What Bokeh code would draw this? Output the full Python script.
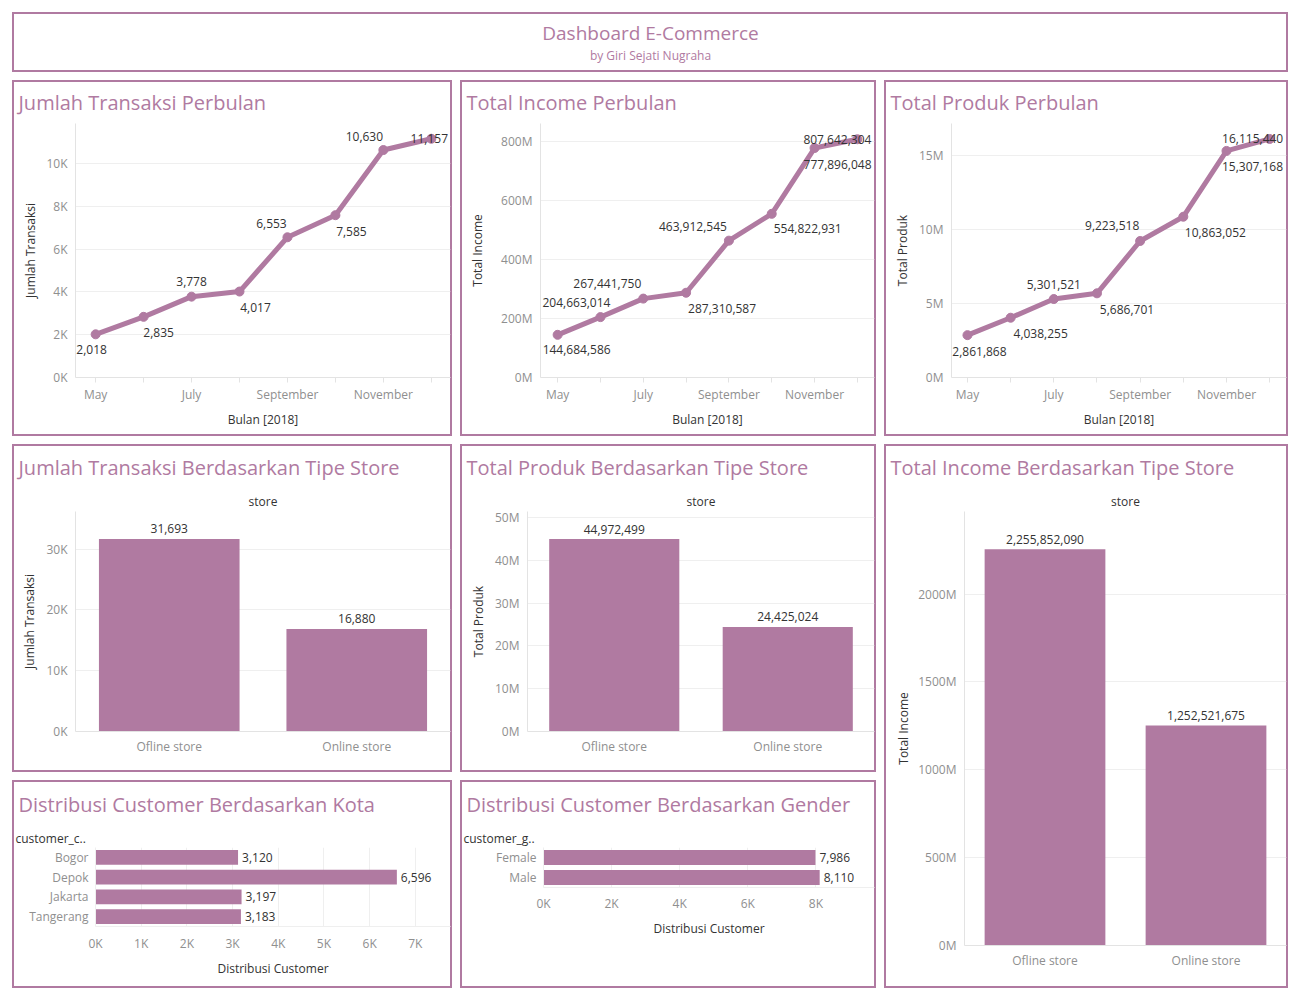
from bokeh.plotting import figure
from bokeh.models import (ColumnDataSource, Label, Title, FixedTicker,
                          Range1d, FactorRange, CustomJSTickFormatter)
from bokeh.layouts import row, column
from bokeh.embed import file_html
from bokeh.resources import INLINE
from bokeh.core.properties import value

# ---- data -------------------------------------------------------------
months = ["May", "June", "July", "August", "September", "October", "November", "December"]
transaksi_bulanan = [2018, 2835, 3778, 4017, 6553, 7585, 10630, 11157]
income_bulanan = [144684586, 204663014, 267441750, 287310587,
                  463912545, 554822931, 777896048, 807642304]
produk_bulanan = [2861868, 4038255, 5301521, 5686701,
                  9223518, 10863052, 15307168, 16115440]

store_types = ["Ofline store", "Online store"]
transaksi_store = [31693, 16880]
produk_store = [44972499, 24425024]
income_store = [2255852090, 1252521675]

kota = ["Bogor", "Depok", "Jakarta", "Tangerang"]
customer_kota = [3120, 6596, 3197, 3183]
gender = ["Female", "Male"]
customer_gender = [7986, 8110]

# ---- style ------------------------------------------------------------
PURPLE = "#b07aa1"
FONT = "Open Sans"
DARK = "#333333"
TICK_GREY = "#8f8f8f"
GRID = "#efefef"
AXIS_LINE = "#e3e3e3"
# tile frame: an inset ring behind a transparent canvas
TILE_STYLE = {"box-shadow": f"inset 0 0 0 2px {PURPLE}", "background-color": "white"}


def panel(w, h, fl, fr, ft, fb, **kw):
    """A bordered dashboard tile whose plot frame spans [fl, fr] x [ft, fb]."""
    p = figure(width=w, height=h, output_backend="svg", toolbar_location=None,
               min_border_left=fl, min_border_right=w - fr,
               min_border_top=ft, min_border_bottom=h - fb,
               styles=TILE_STYLE, **kw)
    p.outline_line_color = None
    p.border_fill_color = None
    p.background_fill_color = None
    return p


def add_title(p, text, size, color, align, offset, standoff):
    # titles added first sit closest to the plot frame
    p.add_layout(Title(text=text, text_font=FONT, text_font_size=size,
                       text_color=color, text_font_style="normal",
                       align=align, offset=offset, standoff=standoff,
                       vertical_align="middle"), "above")


def style_axis(ax, label_standoff, tick_standoff, tick_out=0):
    ax.axis_label_text_font = FONT
    ax.axis_label_text_font_size = "12px"
    ax.axis_label_text_font_style = "normal"
    ax.axis_label_text_color = DARK
    ax.axis_label_standoff = label_standoff
    ax.major_label_text_font = FONT
    ax.major_label_text_font_size = "12px"
    ax.major_label_text_color = TICK_GREY
    ax.major_label_standoff = tick_standoff
    ax.axis_line_color = AXIS_LINE
    ax.major_tick_line_color = AXIS_LINE
    ax.major_tick_in = 0
    ax.major_tick_out = tick_out
    ax.minor_tick_line_color = None


def unit_formatter(div, suffix):
    return CustomJSTickFormatter(args=dict(d=div, s=suffix),
                                 code="return (tick / d).toFixed(0) + s;")


def line_panel(title, ylabel, values, y_max, y_step, div, suffix,
               x_lo, x_hi, w, fl, ylabel_standoff, dx, dy):
    p = panel(w, 356, fl, w - 2, 43, 297,
              x_range=Range1d(x_lo, x_hi), y_range=Range1d(0, y_max))
    x = list(range(len(months)))
    src = ColumnDataSource(dict(x=x, y=values,
                                label=[f"{v:,}" for v in values], dx=dx, dy=dy))
    p.line("x", "y", source=src, line_color=PURPLE, line_width=5,
           line_join="round", line_cap="round")
    p.scatter("x", "y", source=src, size=9, color=PURPLE)
    p.text("x", "y", text="label", x_offset="dx", y_offset="dy", source=src,
           text_font=value(FONT), text_font_size="12px", text_color=DARK,
           text_align="center", text_baseline="middle")

    p.xgrid.grid_line_color = None
    p.ygrid.grid_line_color = GRID
    p.xaxis.ticker = FixedTicker(ticks=x)
    p.xaxis.major_label_overrides = {i: (m if i % 2 == 0 else "") for i, m in enumerate(months)}
    p.xaxis.axis_label = "Bulan [2018]"
    style_axis(p.xaxis[0], 5, 3, tick_out=5)

    p.yaxis.ticker = FixedTicker(ticks=list(range(0, int(y_max) + 1, int(y_step))))
    p.yaxis.formatter = unit_formatter(div, suffix)
    p.yaxis.axis_label = ylabel
    style_axis(p.yaxis[0], ylabel_standoff, 8)

    add_title(p, title, "20px", PURPLE, "left", 6 - fl, 13)
    return p


def vbar_panel(title, ylabel, values, y_max, y_step, div, suffix,
               w, h, fl, fb, ylabel_standoff):
    p = panel(w, h, fl, w - 2, 66, fb,
              x_range=FactorRange(factors=store_types), y_range=Range1d(0, y_max))
    src = ColumnDataSource(dict(cat=store_types, val=values,
                                label=[f"{v:,}" for v in values]))
    p.vbar(x="cat", top="val", width=0.75, source=src,
           fill_color=PURPLE, line_color=None)
    p.text(x="cat", y="val", text="label", y_offset=-10, source=src,
           text_font=value(FONT), text_font_size="12px", text_color=DARK,
           text_align="center", text_baseline="middle")

    p.xgrid.grid_line_color = None
    p.ygrid.grid_line_color = GRID
    style_axis(p.xaxis[0], 0, 6, tick_out=0)

    p.yaxis.ticker = FixedTicker(ticks=list(range(0, int(y_max) + 1, int(y_step))))
    p.yaxis.formatter = unit_formatter(div, suffix)
    p.yaxis.axis_label = ylabel
    style_axis(p.yaxis[0], ylabel_standoff, 8)

    add_title(p, "store", "12px", DARK, "center", 0, 2)
    add_title(p, title, "20px", PURPLE, "left", 6 - fl, 17)
    return p


def hbar_panel(title, header, cats, values, x_max, x_step, w, fb,
               tick_standoff, label_standoff):
    p = panel(w, 208, 83, w - 2, 66, fb,
              y_range=FactorRange(factors=cats[::-1]), x_range=Range1d(0, x_max))
    src = ColumnDataSource(dict(cat=cats, val=values,
                                label=[f"{v:,}" for v in values]))
    p.hbar(y="cat", right="val", left=0, height=0.75, source=src,
           fill_color=PURPLE, line_color=None)
    p.text(x="val", y="cat", text="label", x_offset=4, source=src,
           text_font=value(FONT), text_font_size="12px", text_color=DARK,
           text_align="left", text_baseline="middle")

    p.ygrid.grid_line_color = None
    p.xgrid.grid_line_color = GRID
    p.xaxis.ticker = FixedTicker(ticks=list(range(0, int(x_max) + 1, int(x_step))))
    p.xaxis.formatter = unit_formatter(1000, "K")
    p.xaxis.axis_label = "Distribusi Customer"
    style_axis(p.xaxis[0], label_standoff, tick_standoff, tick_out=0)
    style_axis(p.yaxis[0], 0, 7, tick_out=0)
    p.xaxis.axis_line_color = GRID
    p.yaxis.axis_line_color = GRID

    add_title(p, header, "12px", DARK, "left", 3 - 83, 0)
    add_title(p, title, "20px", PURPLE, "left", 6 - 83, 19)
    return p


# ---- header tile ------------------------------------------------------
top = figure(width=1276, height=60, output_backend="svg", toolbar_location=None,
             x_range=(0, 1), y_range=(0, 1), x_axis_type=None, y_axis_type=None,
             min_border=0, styles=TILE_STYLE)
top.outline_line_color = None
top.border_fill_color = None
top.background_fill_color = None
top.grid.visible = False
for text, y, size in [("Dashboard E-Commerce", 20, "19px"),
                      ("by Giri Sejati Nugraha", 43, "12px")]:
    top.add_layout(Label(x=638, y=y, x_units="canvas", y_units="canvas", text=text,
                         text_font=FONT, text_font_size=size, text_color=PURPLE,
                         text_align="center", text_baseline="middle"))

# ---- monthly line charts ---------------------------------------------
pA = line_panel("Jumlah Transaksi Perbulan", "Jumlah Transaksi", transaksi_bulanan,
                11870, 2000, 1e3, "K", -0.42, 7.4, 440, 63, 4,
                dx=[-4, 15, 0, 16, -16, 16, -19, -2],
                dy=[15, 16, -15, 16, -14, 16, -14, 0])
pB = line_panel("Total Income Perbulan", "Total Income", income_bulanan,
                861e6, 200e6, 1e6, "M", -0.4, 7.4, 416, 80, 12,
                dx=[19, -24, -36, 36, -36, 36, 23, -20],
                dy=[15, -15, -15, 16, -14, 15, 16, 0])
pC = line_panel("Total Produk Perbulan", "Total Produk", produk_bulanan,
                17.16e6, 5e6, 1e6, "M", -0.37, 7.39, 404, 67, 5,
                dx=[12, 30, 0, 30, -28, 32, 26, -17],
                dy=[16, 16, -15, 16, -15, 16, 16, 0])

# ---- store type bar charts -------------------------------------------
pD = vbar_panel("Jumlah Transaksi Berdasarkan Tipe Store", "Jumlah Transaksi",
                transaksi_store, 36200, 10000, 1e3, "K", 440, 328, 63, 287, 5)
pE = vbar_panel("Total Produk Berdasarkan Tipe Store", "Total Produk",
                produk_store, 51.4e6, 10e6, 1e6, "M", 416, 328, 67, 287, 5)
pF = vbar_panel("Total Income Berdasarkan Tipe Store", "Total Income",
                income_store, 2470e6, 500e6, 1e6, "M", 404, 544, 80, 501, 3)

# ---- customer distribution -------------------------------------------
pG = hbar_panel("Distribusi Customer Berdasarkan Kota", "customer_c..",
                kota, customer_kota, 7770, 1000, 440, 146, 8, 5)
pH = hbar_panel("Distribusi Customer Berdasarkan Gender", "customer_g..",
                gender, customer_gender, 9720, 2000, 416, 107, 7, 5)

layout = column(
    top,
    row(pA, pB, pC, spacing=8),
    row(column(row(pD, pE, spacing=8),
               row(column(pG), column(pH), spacing=8), spacing=8),
        pF, spacing=8),
    spacing=8,
)
layout.margin = (12, 0, 0, 12)

open("out.html", "w").write(file_html(layout, INLINE))
